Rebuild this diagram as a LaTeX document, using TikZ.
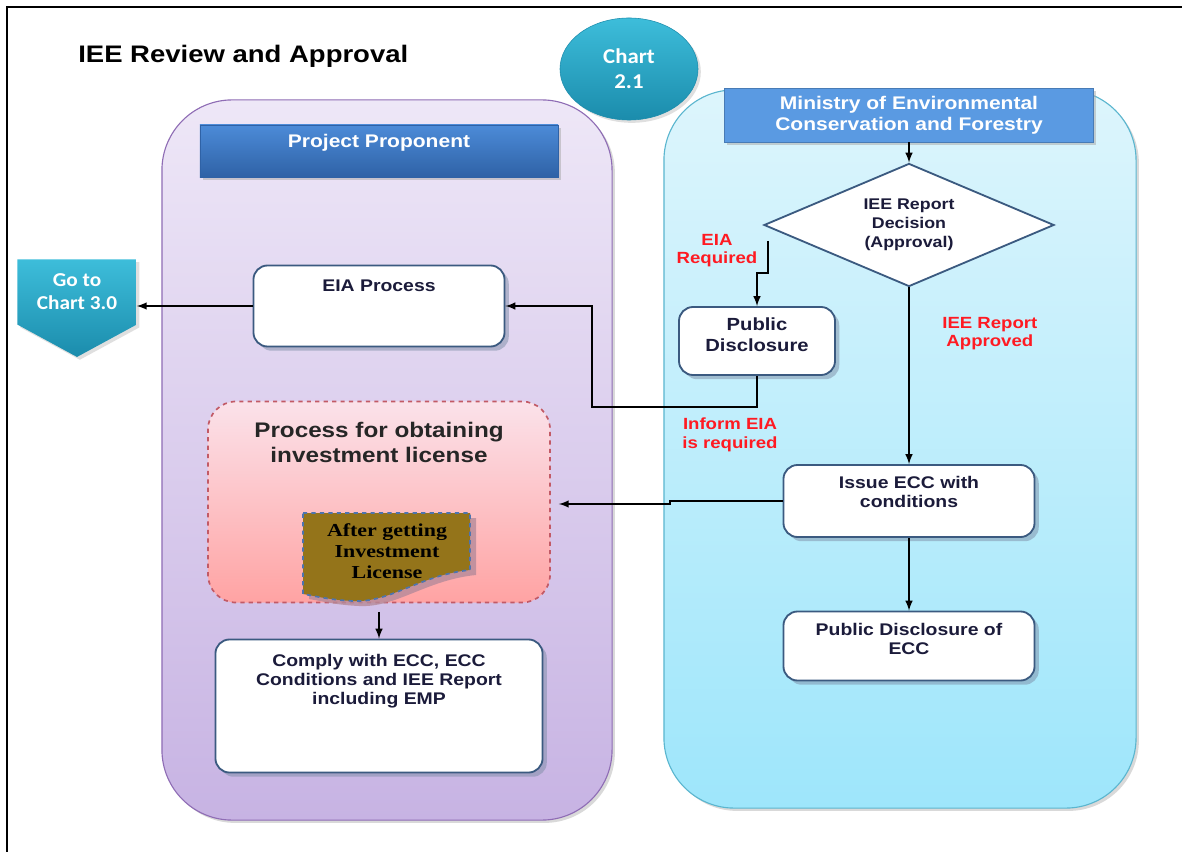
\documentclass[tikz,border=0pt]{standalone}
\usepackage{fontspec}
\setmainfont[FakeStretch=1.15]{Liberation Sans}
\newfontfamily\calibrifont[FakeStretch=1.08]{Carlito}
\newfontfamily\timesfont[FakeStretch=1.2]{Liberation Serif}
\usetikzlibrary{shapes.geometric,shapes.symbols,shadows,calc,positioning}

\definecolor{laneLilacTop}{HTML}{EEE7F7}
\definecolor{laneLilacBot}{HTML}{C7B3E3}
\definecolor{laneLilacLine}{HTML}{8F6DB5}
\definecolor{laneCyanTop}{HTML}{DDF5FC}
\definecolor{laneCyanBot}{HTML}{9EE6FB}
\definecolor{laneCyanLine}{HTML}{5BB6CF}
\definecolor{headTop}{HTML}{4C8BD8}
\definecolor{headBot}{HTML}{2F62A6}
\definecolor{headFlat}{HTML}{5A9AE2}
\definecolor{boxLine}{HTML}{3B5A80}
\definecolor{shadowBlue}{HTML}{7D8DA6}
\definecolor{tealTop}{HTML}{3DBDDA}
\definecolor{tealBot}{HTML}{1B8CAC}
\definecolor{pinkTop}{HTML}{FBE2EA}
\definecolor{pinkBot}{HTML}{FFA3A3}
\definecolor{pinkLine}{HTML}{C25A66}
\definecolor{licBrown}{HTML}{94741A}
\definecolor{licLine}{HTML}{4D74B0}
\definecolor{licShadow}{HTML}{B58A9A}
\definecolor{noteRed}{HTML}{FF1A22}
\definecolor{inkNavy}{HTML}{1B1B3A}

\begin{document}
\begin{tikzpicture}[x=0.025cm,y=-0.025cm,
  every node/.style={align=center,text=inkNavy},
  lane/.style={rounded corners=50pt,line width=0.8pt,drop shadow={shadow xshift=2pt,shadow yshift=-2pt,fill=black!25,opacity=0.6}},
  header/.style={rectangle,draw=headBot,line width=0.6pt,drop shadow={shadow xshift=2pt,shadow yshift=-2pt,fill=black!35}},
  headtext/.style={text=white,font=\fontsize{13}{15}\selectfont\bfseries,inner sep=0pt},
  flowbox/.style={rectangle,draw=boxLine,line width=1.3pt,fill=white,rounded corners=10pt,drop shadow={shadow xshift=3pt,shadow yshift=-3pt,fill=shadowBlue}},
  boxtext/.style={font=\fontsize{12}{13.6}\selectfont\bfseries,inner sep=0pt},
  redlabel/.style={text=noteRed,font=\fontsize{11.5}{13}\selectfont\bfseries,inner sep=0pt},
  arrowline/.style={-latex,line width=1.4pt,black}]
\useasboundingbox (0,0) rectangle (1182,852);
\draw [line width=2pt] (1182,7) -- (7,7) -- (7,852);

\node [anchor=base west,inner sep=0pt,text=black,font=\fontsize{17}{20}\selectfont\bfseries] (Title) at (78,63) {IEE Review and Approval};

% swim lanes
\node [lane,top color=laneLilacTop,bottom color=laneLilacBot,draw=laneLilacLine,minimum width=11.25cm,minimum height=18cm] (ProponentLane) at (387,460) {};
\node [lane,top color=laneCyanTop,bottom color=laneCyanBot,draw=laneCyanLine,minimum width=11.8cm,minimum height=17.95cm] (MinistryLane) at (900,449) {};

\node [ellipse,minimum width=3.45cm,minimum height=2.55cm,top color=tealTop,bottom color=tealBot,draw=tealBot,text=white,font=\calibrifont\fontsize{15}{17.7}\selectfont\bfseries,drop shadow={shadow xshift=2pt,shadow yshift=-2pt,fill=black!25}] (ChartBadge) at (629,69) {Chart\\2.1};

\node [header,top color=headTop,bottom color=headBot,minimum width=8.95cm,minimum height=1.3cm] (ProponentHead) at (379,151) {};
\node [headtext,below=7pt of ProponentHead.north] (ProponentText) {Project Proponent};
\node [header,fill=headFlat,draw=headFlat!80!black,minimum width=9.225cm,minimum height=1.35cm,text=white,font=\fontsize{13}{15}\selectfont\bfseries] (Ministry) at (909,115) {Ministry of Environmental\\Conservation and Forestry};

% ministry side
\node [diamond,draw=boxLine,line width=1.3pt,fill=white,aspect=2.3,minimum width=7.25cm,minimum height=3.075cm,font=\fontsize{11}{13.5}\selectfont\bfseries] (Decision) at (909,225) {IEE Report\\Decision\\(Approval)};
\node [flowbox,minimum width=3.9cm,minimum height=1.7cm] (PublicDisclosure) at (757,341) {};
\node [boxtext,below=8pt of PublicDisclosure.north,font=\fontsize{12.5}{15}\selectfont\bfseries] (PublicDisclosureText) {Public\\Disclosure};
\node [flowbox,minimum width=6.275cm,minimum height=1.8cm] (IssueECC) at (909,501) {};
\node [boxtext,below=8.5pt of IssueECC.north] (IssueECCText) {Issue ECC with\\conditions};
\node [flowbox,minimum width=6.275cm,minimum height=1.725cm] (PublicECC) at (909,646) {};
\node [boxtext,below=9pt of PublicECC.north] (PublicECCText) {Public Disclosure of\\ECC};

% proponent side
\node [flowbox,minimum width=6.275cm,minimum height=2.025cm] (EIAProcess) at (379,306) {};
\node [boxtext,below=10.5pt of EIAProcess.north] (EIAProcessText) {EIA Process};
\node [signal,signal to=south,signal pointer angle=123,minimum width=2.975cm,minimum height=2.175cm,top color=tealTop,bottom color=tealBot,text=white,inner sep=0pt,font=\calibrifont\fontsize{14}{16.5}\selectfont\bfseries,drop shadow={shadow xshift=2pt,shadow yshift=-2pt,fill=black!25}] (GoToChart) at (77,292) {Go to\\Chart 3.0};

\node [rectangle,rounded corners=20pt,draw=pinkLine,dashed,line width=1.2pt,top color=pinkTop,bottom color=pinkBot,minimum width=8.55cm,minimum height=5.025cm] (InvestProcess) at (379,502) {};
\node [below=15pt of InvestProcess.north,inner sep=0pt,text=black!85,font=\fontsize{15}{17.7}\selectfont\bfseries] (InvestProcessText) {Process for obtaining\\investment license};
\fill [licShadow,opacity=0.8] (309,518) -- (476,518) -- (476,575) .. controls (426,580) and (396,608) .. (359,606) .. controls (336,605) and (321,601) .. (309,599) -- cycle;
\draw [licLine,dashed,line width=1.2pt,fill=licBrown] (303,513) -- (470,513) -- (470,570) .. controls (420,575) and (390,603) .. (353,601) .. controls (330,600) and (315,596) .. (303,594) -- cycle;
\node [inner sep=0pt,text=black,font=\timesfont\fontsize{13}{15}\selectfont\bfseries] (LicenseNote) at (387,551) {After getting\\Investment\\License};

\node [flowbox,minimum width=8.175cm,minimum height=3.325cm] (Comply) at (379,706) {};
\node [boxtext,below=11pt of Comply.north] (ComplyText) {Comply with ECC, ECC\\Conditions and IEE Report\\including EMP};

% connectors
\draw [arrowline] (Ministry.south) -- (Decision.north);
\draw [arrowline] ($(Decision.west)+(5,16)$) -- ++(0,32) node [redlabel,anchor=east,pos=0.3,xshift=-7pt] (EIARequiredLabel) {EIA\\Required} -| (PublicDisclosure.north);
\draw [arrowline] (PublicDisclosure.south) -- ++(0,31) -| ($(EIAProcess.east)+(87,0)$) -- (EIAProcess.east);
\node [redlabel] (InformEIALabel) at ($(PublicDisclosure.south)+(-27,59)$) {Inform EIA\\is required};
\draw [arrowline] (EIAProcess.west) -- (EIAProcess.west -| GoToChart.east);
\draw [arrowline] (Decision.south) -- node [redlabel,pos=0.26,anchor=west,xshift=23pt] (ApprovedLabel) {IEE Report\\Approved} (IssueECC.north);
\draw [arrowline] (IssueECC.west) -- ++(-113,0) |- ($(InvestProcess.east)+(8,2)$);
\draw [arrowline,shorten <=6pt] (InvestProcess.south) -- (Comply.north);
\draw [arrowline] (IssueECC.south) -- (PublicECC.north);
\end{tikzpicture}
\end{document}
